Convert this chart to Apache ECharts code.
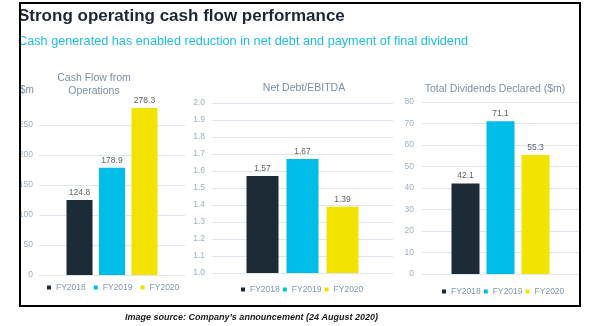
<!DOCTYPE html>
<html>
<head>
<meta charset="utf-8">
<script src="https://cdn.jsdelivr.net/npm/echarts@6/dist/echarts.min.js"></script>
<style>
html,body{margin:0;padding:0;background:#fff;}
#c{width:591px;height:326px;}
</style>
</head>
<body>
<div id="c"></div>
<script>
// ---- data ----
const years = ['FY2018', 'FY2019', 'FY2020'];
const cashFlow = [124.8, 178.9, 278.3];
const netDebtEbitda = [1.57, 1.67, 1.39];
const dividends = [42.1, 71.1, 55.3];
const chartTitles = ['Cash Flow from\nOperations', 'Net Debt/EBITDA', 'Total Dividends Declared ($m)'];
const mainTitle = 'Strong operating cash flow performance';
const subTitle = 'Cash generated has enabled reduction in net debt and payment of final dividend';
const footer = 'Image source: Company\u2019s announcement (24 August 2020)';
const axisUnit = '$m';

// ---- styles ----
const colors = ['#1d2b36', '#00bde7', '#f2e300'];
const FONT = '"Liberation Sans", Arial, sans-serif';
const tickColor = '#9fb1c1';
const titleColor = '#7b91a5';
const gridColor = '#dfe7ee';

const chart = echarts.init(document.getElementById('c'), null, {renderer: 'canvas'});

const grids = [
  {left: 39, top: 125, width: 146, height: 150},
  {left: 212, top: 103, width: 181, height: 170},
  {left: 422, top: 102, width: 157, height: 172}
];
const yAxes = [
  {min: 0, max: 250, interval: 50, fmt: v => String(v), margin: 6},
  {min: 1.0, max: 2.0, interval: 0.1, fmt: v => v.toFixed(1), margin: 7},
  {min: 0, max: 80, interval: 10, fmt: v => String(v), margin: 8}
];
const datasets = [cashFlow, netDebtEbitda, dividends];
const barWidths = [26, 32, 28];
const clips = [false, true, false];

const series = [];
datasets.forEach((arr, gi) => {
  years.forEach((y, i) => {
    series.push({
      type: 'bar',
      name: y,
      xAxisIndex: gi,
      yAxisIndex: gi,
      data: [arr[i]],
      barWidth: barWidths[gi],
      barGap: '25%',
      clip: clips[gi],
      itemStyle: {color: colors[i]},
      label: {
        show: true, position: 'top', distance: 3,
        color: '#5f6469', fontSize: 8.5, fontFamily: FONT,
        formatter: p => String(p.value)
      },
      animation: false
    });
  });
});

const legendPos = [
  {left: 47, top: 283, itemGap: 8},
  {left: 241, top: 285, itemGap: 3},
  {left: 442, top: 287, itemGap: 3}
];

const option = {
  animation: false,
  grid: grids,
  xAxis: grids.map((g, gi) => ({
    type: 'category', gridIndex: gi, data: [''],
    axisLine: {show: false}, axisTick: {show: false}, axisLabel: {show: false}
  })),
  yAxis: yAxes.map((a, gi) => ({
    type: 'value', gridIndex: gi, min: a.min, max: a.max, interval: a.interval,
    axisLine: {show: false}, axisTick: {show: false},
    axisLabel: {color: tickColor, fontSize: 8.5, fontFamily: FONT, margin: a.margin, formatter: a.fmt},
    splitLine: {lineStyle: {color: gridColor, width: 1}}
  })),
  legend: legendPos.map(l => ({
    data: years, left: l.left, top: l.top, itemGap: l.itemGap,
    itemWidth: 4, itemHeight: 4, icon: 'rect', padding: 0,
    textStyle: {color: '#8299ad', fontSize: 8.5, fontFamily: FONT}
  })),
  series: series,
  graphic: [
    {type: 'rect', shape: {x: 20, y: 3, width: 560, height: 303},
     style: {fill: 'none', stroke: '#000', lineWidth: 2}, silent: true, z: 100},
    {type: 'text', x: 18, y: 16, style: {text: mainTitle, fill: '#1c2733',
      font: 'bold 17px ' + FONT, textVerticalAlign: 'middle'}},
    {type: 'text', x: 18, y: 41, style: {text: subTitle, fill: '#1fbde6',
      font: '12.7px ' + FONT, textVerticalAlign: 'middle'}},
    {type: 'text', x: 94, y: 85, style: {text: chartTitles[0], fill: titleColor,
      font: '10.5px ' + FONT, textAlign: 'center', textVerticalAlign: 'middle', lineHeight: 13}},
    {type: 'text', x: 304, y: 88, style: {text: chartTitles[1], fill: titleColor,
      font: '10.5px ' + FONT, textAlign: 'center', textVerticalAlign: 'middle'}},
    {type: 'text', x: 495, y: 89, style: {text: chartTitles[2], fill: titleColor,
      font: '10.5px ' + FONT, textAlign: 'center', textVerticalAlign: 'middle'}},
    {type: 'text', x: 20, y: 90, style: {text: axisUnit, fill: titleColor,
      font: '10px ' + FONT, textVerticalAlign: 'middle'}},
    {type: 'text', x: 125, y: 318, style: {text: footer, fill: '#1a1a1a',
      font: 'italic bold 9px ' + FONT, textVerticalAlign: 'middle'}}
  ]
};
chart.setOption(option);
</script>
</body>
</html>
